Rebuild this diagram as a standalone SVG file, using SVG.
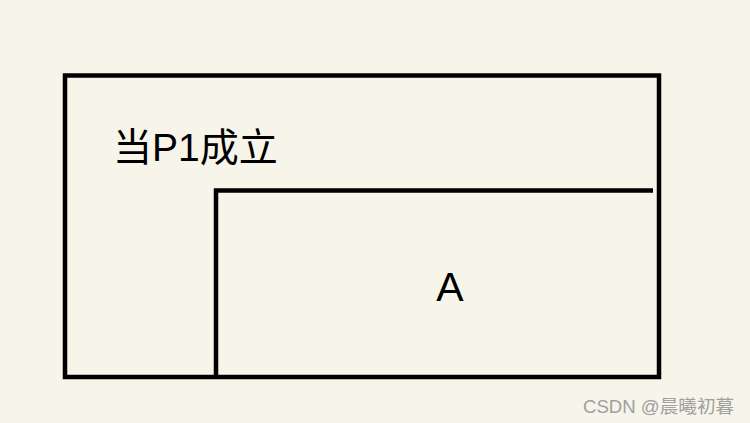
<svg xmlns="http://www.w3.org/2000/svg" width="750" height="423" viewBox="0 0 750 423">
<style>
.ln{fill:none;stroke:#000;stroke-width:4.5;stroke-linecap:square}
.t{font-family:"Liberation Sans","Noto Sans CJK SC",sans-serif;fill:#000}
</style>
<rect width="750" height="423" fill="#f7f5e9"/>
<g id="outer"><rect class="ln" x="65" y="75.5" width="594" height="301.5"/></g>
<g id="label"><text class="t" x="113" y="161" font-size="39">当P1成立</text></g>
<g id="inner"><path class="ln" d="M216 377V190.5H653" style="stroke-linecap:butt"/></g>
<g id="A"><text class="t" x="450" y="301" font-size="41" text-anchor="middle">A</text></g>
<text x="583" y="413" font-family="Liberation Sans,'Noto Sans CJK SC',sans-serif" font-size="18.6" fill="#a0a0a0">CSDN @晨曦初暮</text>
</svg>
